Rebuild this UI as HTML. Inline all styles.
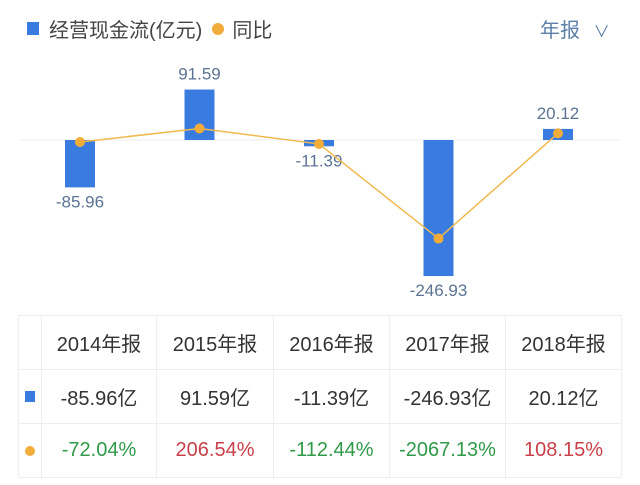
<!DOCTYPE html>
<html><head><meta charset="utf-8"><style>
html,body{margin:0;padding:0;background:#fff;width:640px;height:485px;overflow:hidden}
body{font-family:"Liberation Sans","Noto Sans CJK SC",sans-serif;position:relative}
.abs{position:absolute}
table{position:absolute;left:18px;top:315px;border-collapse:collapse;font-size:20px;color:#333}
td{border:1px solid #eee;text-align:center;padding:0;height:53px}
</style></head><body>
<div class="abs" style="left:27px;top:14px;font-size:20px;color:#444;display:flex;align-items:center">
 <span style="width:12px;height:13px;background:#3a7be0;display:inline-block;margin-right:10px"></span>
 <span>经营现金流(亿元)</span>
 <span style="width:12px;height:12px;border-radius:50%;background:#f2ac3a;display:inline-block;margin:0 8px 0 10px"></span>
 <span>同比</span>
</div>
<div class="abs" style="left:540px;top:14px;font-size:20px;color:#5b7fa8">年报 <span style="font-size:16px;margin-left:8px">∨</span></div>
<svg id="chart" class="abs" style="left:0;top:0" width="640" height="310"></svg>
<table>
<tr><td style="width:22px"></td><td style="width:114px">2014年报</td><td style="width:116px">2015年报</td><td style="width:115px">2016年报</td><td style="width:115px">2017年报</td><td style="width:115px">2018年报</td></tr>
<tr><td><span style="display:inline-block;width:10px;height:11px;background:#3a7be0"></span></td><td>-85.96亿</td><td>91.59亿</td><td>-11.39亿</td><td>-246.93亿</td><td>20.12亿</td></tr>
<tr><td><span style="display:inline-block;width:10px;height:10px;border-radius:50%;background:#f2ac3a"></span></td><td style="color:#2f9a48">-72.04%</td><td style="color:#c8414a">206.54%</td><td style="color:#2f9a48">-112.44%</td><td style="color:#2f9a48">-2067.13%</td><td style="color:#c8414a">108.15%</td></tr>
</table>
<script>
const categories=["2014","2015","2016","2017","2018"];
const cashFlow=[-85.96,91.59,-11.39,-246.93,20.12];
const yoy=[-72.04,206.54,-112.44,-2067.13,108.15];
const labels=["-85.96","91.59","-11.39","-246.93","20.12"];
const NS="http://www.w3.org/2000/svg";
const svg=document.getElementById('chart');
const x=i=>80+i*119.5;
const yb=v=>140-v*0.551;
const yl=v=>138.5-v*0.0484;
function mk(t,a){const e=document.createElementNS(NS,t);for(const k in a)e.setAttribute(k,a[k]);svg.appendChild(e);return e;}
const zl=mk('line',{x1:20,x2:620,y1:140,y2:140,stroke:'#eee','stroke-width':1});


cashFlow.forEach((v,i)=>{
 const y0=Math.min(yb(v),140),h=Math.max(Math.abs(yb(v)-140),4);
 const r=mk('rect',{x:x(i)-15,y:v<0?140:140-h,width:30,height:h,fill:'#3a7be0'});
 
 
 const ty=v>=0?140-h-10:140+h+20;
 const t=mk('text',{x:x(i),y:ty,'text-anchor':'middle','font-size':17,fill:'#5b7394','font-family':'Liberation Sans, sans-serif'});
 t.textContent=labels[i];
 
 
});
const pl=mk('polyline',{points:yoy.map((v,i)=>x(i)+','+yl(v)).join(' '),fill:'none',stroke:'#f0b94e','stroke-width':1.5});


yoy.forEach((v,i)=>{
 const c=mk('circle',{cx:x(i),cy:yl(v),r:5,fill:'#f2ac3a'});
 
 
});
</script>
</body></html>
